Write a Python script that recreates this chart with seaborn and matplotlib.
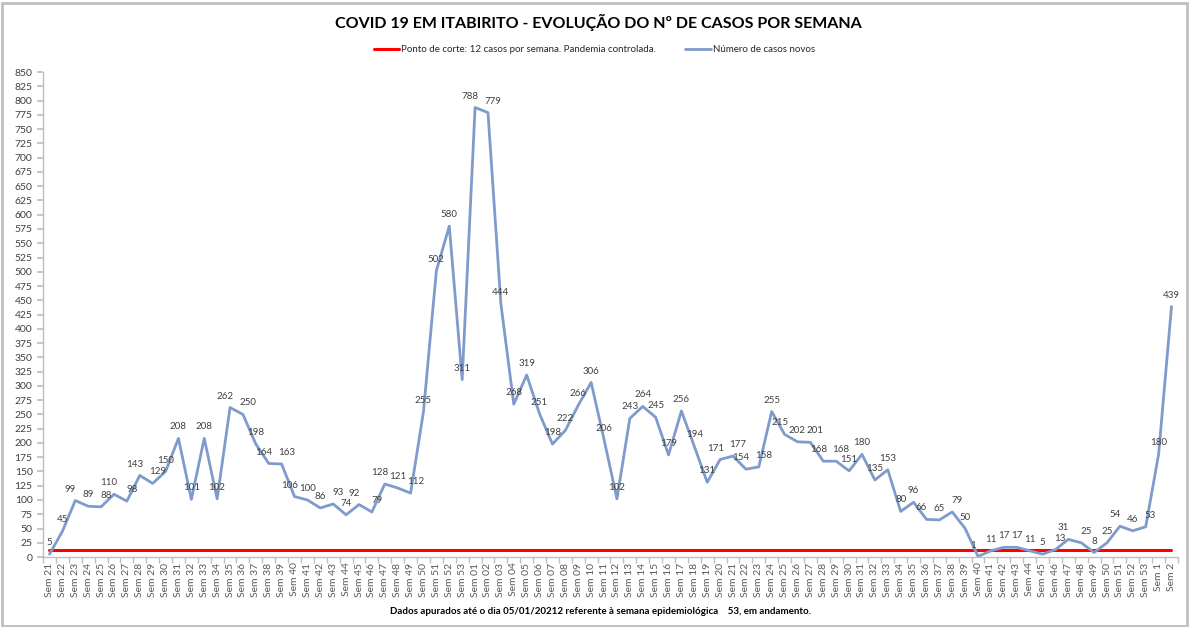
import matplotlib
matplotlib.use("Agg")
import matplotlib.pyplot as plt
import seaborn as sns
import numpy as np
import pandas as pd
from matplotlib.patches import Rectangle

weeks = ([f"Sem {w}" for w in range(21, 54)] +
         [f"Sem {w:02d}" for w in range(1, 54)] +
         ["Sem 1", "Sem 2"])

cases_2020 = [5, 45, 99, 89, 88, 110, 98, 143, 129, 150, 208, 101, 208, 102, 262, 250,
              198, 164, 163, 106, 100, 86, 93, 74, 92, 79, 128, 121, 112, 255, 502, 580, 311]
cases_2021 = [788, 779, 444, 268, 319, 251, 198, 222, 266, 306,
              206, 102, 243, 264, 245, 179, 256, 194, 131, 171,
              177, 154, 158, 255, 215, 202, 201, 168, 168, 151,
              180, 135, 153, 80, 96, 66, 65, 79, 50, 1,
              11, 17, 17, 11, 5, 13, 31, 25, 8, 25,
              54, 46, 53]
cases_2022 = [180, 439]
cases = cases_2020 + cases_2021 + cases_2022
cutoff = 12

title = "COVID 19 EM ITABIRITO - EVOLUÇÃO DO Nº DE CASOS POR SEMANA"
legend_cut = "Ponto de corte: 12 casos por semana. Pandemia controlada."
legend_cases = "Número de casos novos"
footer = "Dados apurados até o dia 05/01/20212 referente à semana epidemiológica    53, em andamento."

sns.set_theme(style="white")
plt.rcParams['font.family'] = ['Lato', 'DejaVu Sans']

df = pd.DataFrame({"idx": np.arange(len(weeks)), "week": weeks, "cases": cases,
                   "cut": [cutoff] * len(weeks)})

fig = plt.figure(figsize=(11.89, 6.27), dpi=100)
fig.patches.append(Rectangle((0.002, 0.002), 0.996, 0.994, transform=fig.transFigure,
                             fill=False, edgecolor="#bfbfbf", linewidth=2))
ax = fig.add_axes([0.0362, 0.1116, 0.9545, 0.7734])

blue = "#7F9BCB"
red = "#FF0000"
sns.lineplot(data=df, x="idx", y="cut", ax=ax, color=red, linewidth=2.2, label=legend_cut)
sns.lineplot(data=df, x="idx", y="cases", ax=ax, color=blue, linewidth=2.0, label=legend_cases)

n = len(cases)
dx = [0.0] * n
for i in range(n - 1):
    if abs(cases[i] - cases[i + 1]) < 16:
        dx[i] -= 3.5
        dx[i + 1] += 3.5
for i, v in enumerate(cases):
    ax.annotate(str(v), (i, v), xytext=(dx[i], 5), textcoords="offset points",
                ha="center", va="bottom", fontsize=7, color="#404040")

ax.set_xlim(-0.5, n - 0.5)
ax.set_ylim(0, 850)
ax.set_yticks(np.arange(0, 851, 25))
ax.set_xticks(np.arange(n))
ax.set_xticklabels(weeks, rotation=90, fontsize=7.5, color="#595959")
ax.set_xticks(np.arange(-0.5, n, 1), minor=True)
ax.tick_params(axis="x", which="major", length=0, pad=4)
ax.tick_params(axis="x", which="minor", length=4, color="#bfbfbf", bottom=True)
ax.tick_params(axis="y", length=4, color="#bfbfbf", left=True, labelsize=7.5, labelcolor="#404040")
ax.set_xlabel("")
ax.set_ylabel("")
for s in ["top", "right"]:
    ax.spines[s].set_visible(False)
for s in ["left", "bottom"]:
    ax.spines[s].set_color("#bfbfbf")
    ax.spines[s].set_linewidth(1)

ax.get_legend().remove()
handles, labels = ax.get_legend_handles_labels()
fig.legend(handles, labels, loc="center", bbox_to_anchor=(0.5, 0.921), ncol=2,
           frameon=False, fontsize=7, handlelength=2.6, handletextpad=0.2,
           columnspacing=3.0)

fig.text(0.503, 0.964, title, ha="center", va="center", fontsize=11.5, fontweight="bold",
         color="#000000")
fig.text(0.505, 0.025, footer, ha="center", va="center", fontsize=7, fontweight="bold",
         color="#000000")

fig.savefig("out.png", dpi=100)
